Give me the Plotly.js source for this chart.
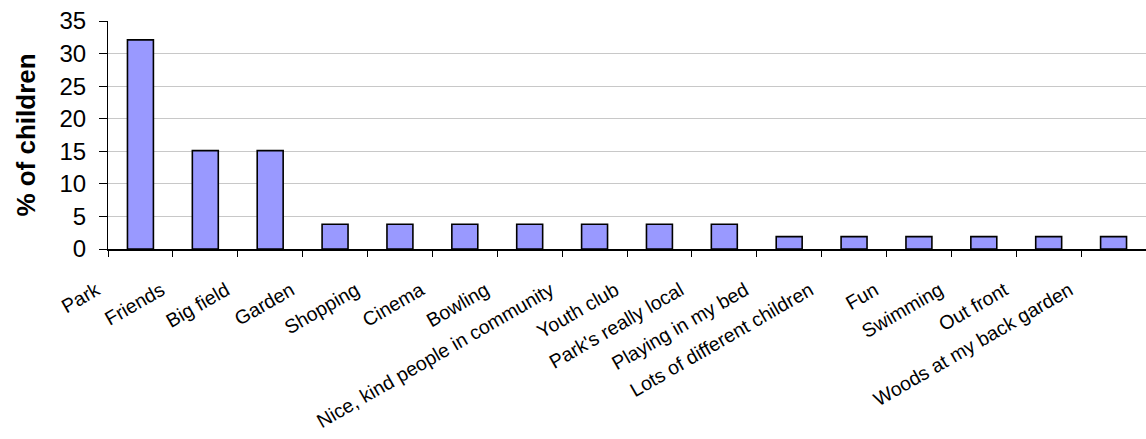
<!DOCTYPE html>
<html>
<head>
<meta charset="utf-8">
<script src="https://cdn.plot.ly/plotly-3.0.1.min.js"></script>
<style>html,body{margin:0;padding:0;background:#fff;}#chart{width:1146px;height:439px;}</style>
</head>
<body>
<div id="chart"></div>
<script>
const categories = ["Park", "Friends", "Big field", "Garden", "Shopping", "Cinema", "Bowling",
  "Nice, kind people in community", "Youth club", "Park's really local", "Playing in my bed",
  "Lots of different children", "Fun", "Swimming", "Out front", "Woods at my back garden"];
const percentChildren = [32.1, 15.1, 15.1, 3.8, 3.8, 3.8, 3.8, 3.8, 3.8, 3.8, 1.9, 1.9, 1.9, 1.9, 1.9, 1.9];
const yTicks = [0, 5, 10, 15, 20, 25, 30, 35];

const trace = {
  type: "bar",
  x: categories,
  y: percentChildren,
  width: 0.4,
  marker: {color: "#9999FF", line: {color: "#000000", width: 1.6}},
  hoverinfo: "x+y"
};

const layout = {
  width: 1146, height: 439,
  margin: {l: 108, r: 0, t: 21, b: 190, pad: 0},
  paper_bgcolor: "#ffffff", plot_bgcolor: "#ffffff",
  font: {family: "Liberation Sans, Arial, sans-serif", color: "#000000"},
  showlegend: false,
  xaxis: {
    type: "category",
    tickangle: -30,
    tickson: "boundaries",
    ticks: "outside", ticklen: 6, tickcolor: "#000", tickwidth: 1,
    ticklabelshift: -44,
    ticklabelstandoff: 21,
    showline: true, linecolor: "#000", linewidth: 1.5,
    showgrid: false,
    tickfont: {size: 19.5, family: "Liberation Sans, Arial, sans-serif"},
    automargin: false
  },
  yaxis: {
    range: [0, 35],
    tickvals: yTicks,
    ticks: "outside", ticklen: 8, tickcolor: "#000",
    ticklabelstandoff: 8,
    showline: true, linecolor: "#000", linewidth: 1,
    showgrid: true, gridcolor: "#c8c8c8", gridwidth: 1,
    zeroline: false,
    tickfont: {size: 24, family: "Liberation Sans, Arial, sans-serif"},
    title: {text: "<b>% of children</b>", font: {size: 26, family: "Liberation Sans, Arial, sans-serif"}, standoff: 16},
    automargin: false
  }
};

Plotly.newPlot("chart", [trace], layout, {displayModeBar: false, staticPlot: true});
</script>
</body>
</html>
